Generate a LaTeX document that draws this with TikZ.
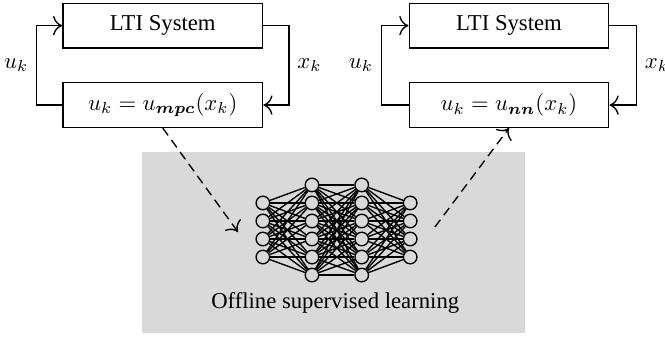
\documentclass[tikz,border=0pt]{standalone}
\usepackage{fontspec}
\setmainfont{Liberation Serif}
\usepackage{amsmath}
\usepackage{amssymb}
\usetikzlibrary{arrows.meta}

\begin{document}
\begin{tikzpicture}[semithick,>={To[scale=1.4]}]

      \useasboundingbox (0,0) rectangle (10.295,5.217);

      % background of the learning stage
      \fill[black!15] (2.198,0.062) rectangle (8.13,2.864);

      \begin{scope}[every node/.style={rectangle,draw,minimum width=3.09cm,minimum height=0.69cm}]
        \node (sys1)  at (2.52,4.82)  {LTI System};
        \node (mpc)   at (2.52,3.59)  {$u_k = u_{\boldsymbol{mpc}}(x_k)$};
        \node (sys2)  at (7.88,4.82)  {LTI System};
        \node (nn)    at (7.88,3.59)  {$u_k = u_{\boldsymbol{nn}}(x_k)$};
      \end{scope}

      \coordinate (in)  at (3.684,1.625);
      \coordinate (out) at (6.734,1.703);

      % feedback loops
      \draw[->] (mpc.west) -- ++(-0.4,0) |- (sys1.west) node[pos=0.25,left] {$u_k$};
      \draw[->] (sys1.east) -- ++(0.4,0) |- (mpc.east) node[pos=0.25,right] {$x_k$};
      \draw[->] (nn.west) -- ++(-0.42,0) |- (sys2.west) node[pos=0.25,left] {$u_k$};
      \draw[->] (sys2.east) -- ++(0.42,0) |- (nn.east) node[pos=0.25,right] {$x_k$};

      % network
      \begin{scope}[every node/.style={circle,draw,minimum size=0.21cm,inner sep=0pt}]
        \foreach \i in {1,...,4} \node (a\i) at (4.07,{1.656+(2.5-\i)*0.279}) {};
        \foreach \i in {1,...,6} \node (b\i) at (4.83,{1.656+(3.5-\i)*0.279}) {};
        \foreach \i in {1,...,6} \node (c\i) at (5.60,{1.656+(3.5-\i)*0.279}) {};
        \foreach \i in {1,...,4} \node (d\i) at (6.35,{1.656+(2.5-\i)*0.279}) {};
      \end{scope}

      \foreach \i in {1,...,4} \foreach \j in {1,...,6} \draw (a\i) -- (b\j);
      \foreach \i in {1,...,6} \foreach \j in {1,...,6} \draw (b\i) -- (c\j);
      \foreach \i in {1,...,6} \foreach \j in {1,...,4} \draw (c\i) -- (d\j);

      \node (lbl) at (5.19,0.53) {Offline supervised learning};

      \begin{scope}[every path/.style={draw,dash pattern=on 4pt off 2.5pt,->}]
        \path (mpc.south) -- (in);
        \path (out) -- (nn.south);
      \end{scope}

    \end{tikzpicture}
\end{document}
